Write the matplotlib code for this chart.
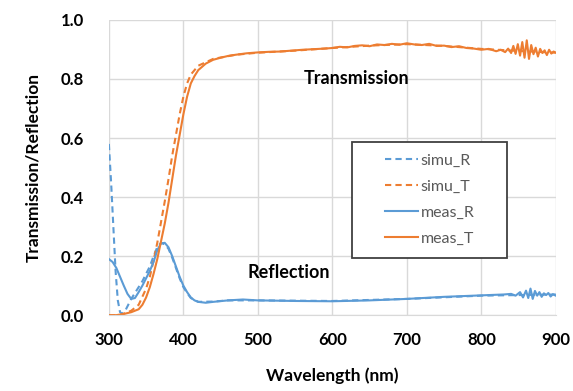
import numpy as np
import matplotlib.pyplot as plt
from matplotlib.patches import Rectangle

plt.rcParams['font.family'] = ['Lato', 'DejaVu Sans']

# measured transmission
wl_mt = [300, 310, 320, 330, 340, 345, 350, 355, 360, 365, 370, 375, 380, 385, 390,
         395, 400, 405, 410, 415, 420, 430, 440, 450, 460, 470, 485, 500, 515, 530,
         545, 560, 575, 590, 600, 610, 620, 630, 640, 650, 660, 670, 680, 690, 700,
         710, 720, 730, 740, 750, 760, 770, 780, 790, 800, 810, 820, 826, 832, 836,
         840, 843, 846, 849, 852, 855, 858, 861, 864, 867, 870, 873, 876, 879, 882,
         885, 888, 891, 894, 897, 900]
meas_T = [0.0, 0.0, 0.004, 0.01, 0.02, 0.035, 0.06, 0.095, 0.14, 0.19, 0.25, 0.31, 0.38, 0.46, 0.54,
          0.61, 0.68, 0.74, 0.785, 0.81, 0.83, 0.852, 0.865, 0.872, 0.878, 0.882, 0.887, 0.89, 0.892, 0.893,
          0.896, 0.899, 0.901, 0.903, 0.905, 0.909, 0.907, 0.912, 0.914, 0.911, 0.917, 0.915, 0.919, 0.916, 0.921,
          0.917, 0.915, 0.919, 0.912, 0.913, 0.908, 0.911, 0.905, 0.903, 0.899, 0.902, 0.894, 0.899, 0.891, 0.903,
          0.888, 0.912, 0.885, 0.918, 0.879, 0.925, 0.872, 0.931, 0.868, 0.915, 0.884, 0.906, 0.876, 0.902, 0.888,
          0.897, 0.881, 0.899, 0.886, 0.893, 0.889]

# simulated transmission
wl_st = [300, 315, 320, 330, 340, 350, 355, 360, 365, 370, 375, 380, 385, 390, 395,
         400, 405, 410, 420, 440, 470, 500, 550, 600, 650, 700, 750, 800, 850, 900]
simu_T = [0.0, 0.0, 0.005, 0.015, 0.035, 0.09, 0.13, 0.185, 0.245, 0.315, 0.385, 0.46, 0.54, 0.61, 0.68,
          0.74, 0.785, 0.815, 0.845, 0.868, 0.882, 0.889, 0.896, 0.905, 0.913, 0.918, 0.912, 0.902, 0.895, 0.889]

# measured reflection
wl_mr = [300, 305, 310, 315, 320, 325, 330, 335, 340, 345, 350, 355, 360, 365, 370,
         375, 380, 385, 390, 395, 400, 405, 410, 415, 420, 430, 440, 460, 480, 500,
         550, 600, 650, 700, 750, 800, 830, 840, 846, 852, 856, 860, 863, 866, 869,
         872, 875, 878, 881, 884, 887, 890, 893, 896, 900]
meas_R = [0.19, 0.18, 0.16, 0.13, 0.10, 0.072, 0.055, 0.058, 0.078, 0.10, 0.125, 0.15, 0.18, 0.22, 0.243,
          0.245, 0.23, 0.20, 0.165, 0.13, 0.10, 0.078, 0.06, 0.05, 0.045, 0.042, 0.045, 0.05, 0.053, 0.05,
          0.048, 0.047, 0.05, 0.055, 0.062, 0.067, 0.07, 0.072, 0.066, 0.078, 0.06, 0.083, 0.058, 0.09, 0.055,
          0.082, 0.066, 0.078, 0.062, 0.074, 0.068, 0.075, 0.063, 0.071, 0.066]

# simulated reflection
wl_sr = [300, 303, 306, 309, 312, 315, 318, 322, 326, 330, 335, 340, 345, 350, 355,
         360, 365, 370, 375, 380, 385, 390, 395, 400, 405, 410, 420, 440, 460, 500,
         600, 700, 800, 900]
simu_R = [0.58, 0.45, 0.30, 0.15, 0.05, 0.01, 0.005, 0.015, 0.035, 0.055, 0.075, 0.095, 0.115, 0.14, 0.165,
          0.2, 0.23, 0.245, 0.24, 0.225, 0.195, 0.16, 0.125, 0.095, 0.075, 0.058, 0.045, 0.046, 0.05, 0.05,
          0.048, 0.055, 0.066, 0.07]

blue = '#5B9BD5'
orange = '#ED7D31'

fig = plt.figure(figsize=(5.73, 3.91), dpi=100)
ax = fig.add_axes([0.190, 0.194, 0.780, 0.755])

ax.plot(wl_sr, simu_R, color=blue, ls=(0, (3, 2)), lw=1.5, label='simu_R')
ax.plot(wl_st, simu_T, color=orange, ls=(0, (3, 2)), lw=1.5, label='simu_T')
ax.plot(wl_mr, meas_R, color=blue, lw=1.5, label='meas_R')
ax.plot(wl_mt, meas_T, color=orange, lw=1.5, label='meas_T')

ax.set_xlim(300, 900)
ax.set_ylim(0, 1.0)
ax.set_xticks(np.arange(300, 901, 100))
ax.set_yticks(np.arange(0, 1.01, 0.2))
ax.set_yticklabels(['%.1f' % v for v in np.arange(0, 1.01, 0.2)])
ax.grid(True, color='#D9D9D9', lw=1)
ax.set_axisbelow(True)
for s in ['top', 'right', 'left']:
    ax.spines[s].set_visible(False)
ax.spines['bottom'].set_color('#D9D9D9')
ax.tick_params(length=0, labelsize=12)
ax.tick_params(axis='x', pad=12)
ax.tick_params(axis='y', pad=18)
for lab in ax.get_xticklabels() + ax.get_yticklabels():
    lab.set_fontweight('bold')

ax.set_xlabel('Wavelength (nm)', fontsize=12.5, fontweight='bold', labelpad=14)
ax.set_ylabel('Transmission/Reflection', fontsize=12.5, fontweight='bold', labelpad=14)

ax.text(633, 0.80, 'Transmission', fontsize=13, fontweight='bold', ha='center', va='center')
ax.text(542, 0.146, 'Reflection', fontsize=13, fontweight='bold', ha='center', va='center')

# legend frame drawn separately so the box can be wider than its contents
ax.add_patch(Rectangle((0.544, 0.195), 0.347, 0.393, transform=ax.transAxes, fill=True,
                       facecolor='white', edgecolor='#404040', lw=1.3, zorder=4))
leg = ax.legend(loc='center', bbox_to_anchor=(0.544, 0.195, 0.347, 0.393),
                fontsize=11.5, frameon=False, handlelength=2.1, handletextpad=0.15,
                labelspacing=0.75, borderpad=0.0)
leg.set_zorder(5)
for t in leg.get_texts():
    t.set_color('#595959')

fig.savefig('out.png', dpi=100)
